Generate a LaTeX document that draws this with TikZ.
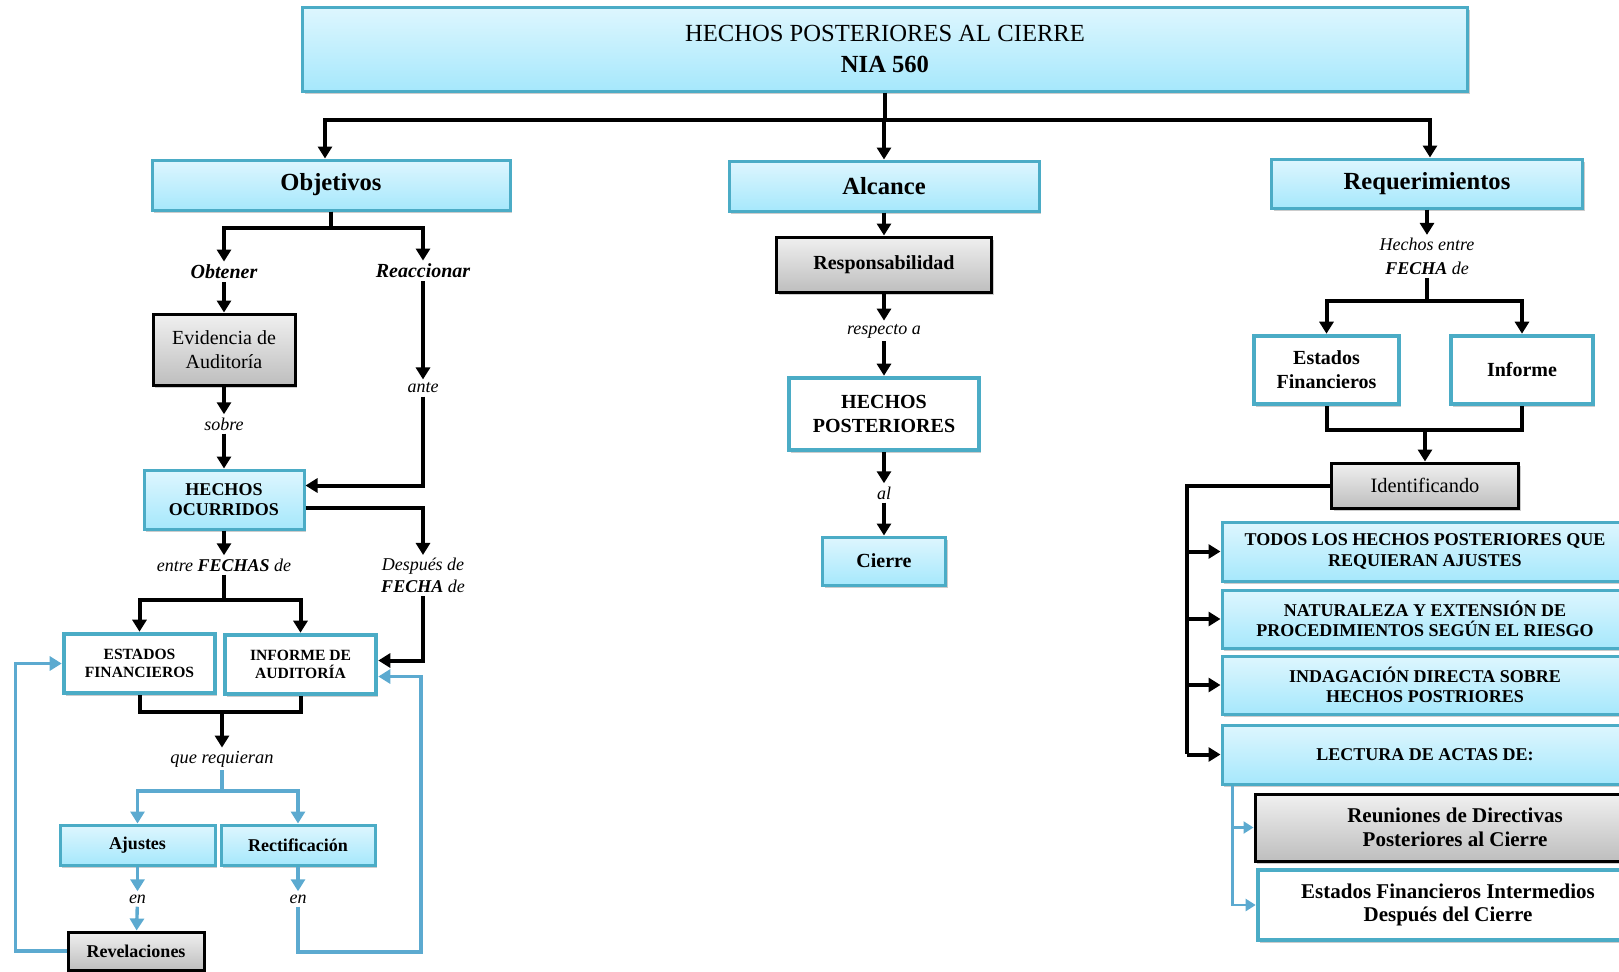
\documentclass[tikz,border=0pt]{standalone}
\usepackage{fontspec}
\setmainfont{Liberation Serif}
\usetikzlibrary{
        arrows.meta,
        positioning,
        shadows
    }
\definecolor{boxblue}{RGB}{75,172,198}
\definecolor{lineblue}{RGB}{92,170,208}
\definecolor{skytop}{RGB}{222,246,254}
\definecolor{skybot}{RGB}{166,232,252}
\definecolor{graytop}{RGB}{240,240,240}
\definecolor{graybot}{RGB}{190,190,190}
\tikzset{>={Triangle[length=6pt,width=7pt]}}
\tikzset{
    boxshadow/.style={drop shadow={shadow xshift=1pt,shadow yshift=-1.3pt,opacity=.4}},
    bluebox/.style={draw=boxblue,line width=1.5pt,top color=skytop,bottom color=skybot,boxshadow,align=center,inner sep=1pt},
    graybox/.style={draw=black,line width=1.5pt,top color=graytop,bottom color=graybot,boxshadow,align=center,inner sep=1pt},
    whitebox/.style={draw=boxblue,line width=2.3pt,fill=white,boxshadow,align=center,inner sep=1pt},
    lbl/.style={align=center,inner sep=1.5pt,font=\itshape\fontsize{9}{10.5}\selectfont},
    link/.style={draw,line width=2pt},
    blink/.style={draw=lineblue,line width=1.7pt,>={Triangle[length=6pt,width=7pt]}}
}

\begin{document}
\begin{tikzpicture}[x=0.5pt,y=-0.5pt]
    \useasboundingbox (0,0) rectangle (1619,971);
    % top and the three branches
    \node[bluebox,minimum width=582.5pt,minimum height=42pt,font=\fontsize{12.3}{15.5}\selectfont] (title) at (885,49) {HECHOS POSTERIORES AL CIERRE\\\textbf{NIA 560}};
    \node[bluebox,minimum width=179pt,minimum height=25pt,font=\bfseries\fontsize{12.3}{14}\selectfont] (objetivos) at (331,185) {Objetivos};
    \node[bluebox,minimum width=155pt,minimum height=25pt,font=\bfseries\fontsize{12.3}{14}\selectfont] (alcance) at (884,186) {Alcance};
    \node[bluebox,minimum width=155.5pt,minimum height=24.5pt,font=\bfseries\fontsize{12.3}{14}\selectfont] (requer) at (1427,183.5) {Requerimientos};
    \coordinate (hub) at (885,120);
    \draw[link] (title.south) -- (hub);
    \draw[link,->] (hub) -| ([xshift=-3pt]objetivos.north);
    \draw[link,->] (hub) -| (alcance.north);
    \draw[link,->] (hub) -| ([xshift=1.5pt]requer.north);

    % Objetivos
    \node[lbl,font=\bfseries\itshape\fontsize{10}{12}\selectfont] (obtener) at (224,272) {Obtener};
    \node[lbl,font=\bfseries\itshape\fontsize{10}{12}\selectfont] (reaccionar) at (423,271) {Reaccionar};
    \node[graybox,minimum width=71pt,minimum height=35.5pt,font=\fontsize{10}{11.9}\selectfont] (evidencia) at (224,349.5) {Evidencia de\\Auditoría};
    \node[lbl] (sobre) at (224,424) {sobre};
    \node[bluebox,minimum width=80pt,minimum height=29.5pt,font=\bfseries\fontsize{9}{10.3}\selectfont] (ocurridos) at (224,499.5) {HECHOS\\OCURRIDOS};
    \node[lbl] (ante) at (423,388) {ante};
    \node[lbl,font=\itshape\fontsize{9}{10.8}\selectfont] (despues) at (423,575.5) {Después de\\\textbf{FECHA} de};
    \node[lbl] (entre) at (224,565) {entre \textbf{FECHAS} de};
    \node[whitebox,minimum width=75.5pt,minimum height=29.5pt,font=\bfseries\fontsize{7.8}{9.3}\selectfont] (estados) at (139.5,663.5) {ESTADOS\\FINANCIEROS};
    \node[whitebox,minimum width=75.5pt,minimum height=29.5pt,font=\bfseries\fontsize{7.8}{9.3}\selectfont] (informe) at (300.5,664.5) {INFORME DE\\AUDITORÍA};
    \node[lbl,font=\itshape\fontsize{9.2}{11}\selectfont] (requieran) at (222,759) {que requieran};
    \node[bluebox,minimum width=77.5pt,minimum height=20pt,font=\bfseries\fontsize{9}{11}\selectfont] (ajustes) at (137.5,845) {Ajustes};
    \node[bluebox,minimum width=77pt,minimum height=20pt,font=\bfseries\fontsize{9}{11}\selectfont] (rectif) at (298,845) {Rectificación};
    \node[lbl] (enA) at (137.5,899) {en};
    \node[lbl] (enB) at (298,899) {en};
    \node[graybox,minimum width=68pt,minimum height=19pt,font=\bfseries\fontsize{9}{11}\selectfont] (revel) at (136,951) {Revelaciones};

    \draw[link,->] (objetivos.south) -- ++(0,16) -| (obtener.north);
    \draw[link,->] (objetivos.south) -- ++(0,16) -| (reaccionar.north);
    \path[link,->]
        (obtener) edge (evidencia)
        (evidencia) edge (sobre)
        (sobre) edge (ocurridos)
        (reaccionar) edge (ante)
        (ocurridos) edge (entre);
    \draw[link,->] (ante.south) |- ([yshift=7pt]ocurridos.east);
    \draw[link,->] ([yshift=-4pt]ocurridos.east) -| (despues.north);
    \draw[link,->] (despues.south) |- ([yshift=2pt]informe.east);
    \coordinate (fork1) at (224,600);
    \draw[link] (entre.south) -- (fork1);
    \draw[link,->] (fork1) -| (estados.north);
    \draw[link,->] (fork1) -| (informe.north);
    \coordinate (join1) at (222,712);
    \draw[link] (estados.south) |- (join1) -| (informe.south);
    \draw[link,->] (join1) -- (requieran.north);
    \coordinate (fork2) at (222,791);
    \draw[blink] (requieran.south) -- (fork2);
    \draw[blink,->] (fork2) -| (ajustes.north);
    \draw[blink,->] (fork2) -| (rectif.north);
    \draw[blink,->] (ajustes) -- (enA);
    \draw[blink,->] (enA) -- (revel);
    \draw[blink,->] (rectif) -- (enB);
    \coordinate (loopR) at (421,952);
    \draw[blink,->] (enB.south) |- (loopR) |- ([yshift=-6pt]informe.east);
    \draw[blink,->] (revel.west) -- ++(-51,0) |- (estados.west);

    % Alcance
    \node[graybox,minimum width=107.5pt,minimum height=27.5pt,font=\bfseries\fontsize{10}{12}\selectfont] (respons) at (884,264.5) {Responsabilidad};
    \node[lbl] (respecto) at (884,331) {respecto a};
    \node[whitebox,minimum width=95pt,minimum height=36pt,font=\bfseries\fontsize{10}{11.9}\selectfont] (hposter) at (884,414) {HECHOS\\POSTERIORES};
    \node[lbl] (al) at (884,493) {al};
    \node[bluebox,minimum width=61.5pt,minimum height=24pt,font=\bfseries\fontsize{10}{12}\selectfont] (cierre) at (884,561) {Cierre};
    \path[link,->]
        (alcance) edge (respons)
        (respons) edge (respecto)
        (respecto) edge (hposter)
        (hposter) edge (al)
        (al) edge (cierre);

    % Requerimientos
    \node[lbl,font=\itshape\fontsize{9}{11.9}\selectfont] (hentre) at (1427,256.5) {Hechos entre\\\textbf{FECHA} de};
    \node[whitebox,minimum width=72.5pt,minimum height=34pt,font=\bfseries\fontsize{10}{11.9}\selectfont] (estfin) at (1326.5,370) {Estados\\Financieros};
    \node[whitebox,minimum width=71pt,minimum height=34pt,font=\bfseries\fontsize{10}{12}\selectfont] (inform) at (1522,370) {Informe};
    \node[graybox,minimum width=93.5pt,minimum height=22.5pt,font=\fontsize{10.2}{12}\selectfont] (ident) at (1425,485.5) {Identificando};
    \node[bluebox,minimum width=203pt,minimum height=29.5pt,font=\bfseries\fontsize{9}{10.3}\selectfont] (todos) at (1425,551.5) {TODOS LOS HECHOS POSTERIORES QUE\\REQUIERAN AJUSTES};
    \node[bluebox,minimum width=203pt,minimum height=29pt,font=\bfseries\fontsize{9}{10.3}\selectfont] (natur) at (1425,619) {NATURALEZA Y EXTENSIÓN DE\\PROCEDIMIENTOS SEGÚN EL RIESGO};
    \node[bluebox,minimum width=203pt,minimum height=29pt,font=\bfseries\fontsize{9}{10.3}\selectfont] (indag) at (1425,685) {INDAGACIÓN DIRECTA SOBRE\\HECHOS POSTRIORES};
    \node[bluebox,minimum width=203pt,minimum height=29.5pt,font=\bfseries\fontsize{9}{10.3}\selectfont] (lectura) at (1425,754.5) {LECTURA DE ACTAS DE:};
    \node[graybox,minimum width=200pt,minimum height=33.5pt,font=\bfseries\fontsize{10.5}{11.9}\selectfont] (reunion) at (1455,827.5) {Reuniones de Directivas\\Posteriores al Cierre};
    \node[whitebox,minimum width=190pt,minimum height=35pt,font=\bfseries\fontsize{10.5}{11.9}\selectfont] (efint) at (1448,905) {Estados Financieros Intermedios\\Después del Cierre};

    \draw[link,->] (requer) -- (hentre);
    \coordinate (fork3) at (1427,301);
    \draw[link] (hentre.south) -- (fork3);
    \draw[link,->] (fork3) -| (estfin.north);
    \draw[link,->] (fork3) -| (inform.north);
    \coordinate (join3) at (1425,430);
    \draw[link] (estfin.south) |- (join3) -| (inform.south);
    \draw[link,->] (join3) -- (ident.north);
    \coordinate (spine) at (1187,754);
    \draw[link] (ident.west) -| (spine);
    \draw[link,->] (todos.west -| spine) -- (todos.west);
    \draw[link,->] (natur.west -| spine) -- (natur.west);
    \draw[link,->] (indag.west -| spine) -- (indag.west);
    \draw[link,->] (lectura.west -| spine) -- (lectura.west);
    \draw[blink,line width=1.1pt,>={Triangle[length=5pt,width=6pt]},->] ([xshift=6pt]lectura.south west) |- (reunion.west);
    \draw[blink,line width=1.1pt,>={Triangle[length=5pt,width=6pt]},->] ([xshift=6pt]lectura.south west) |- (efint.west);
\end{tikzpicture}
\end{document}
